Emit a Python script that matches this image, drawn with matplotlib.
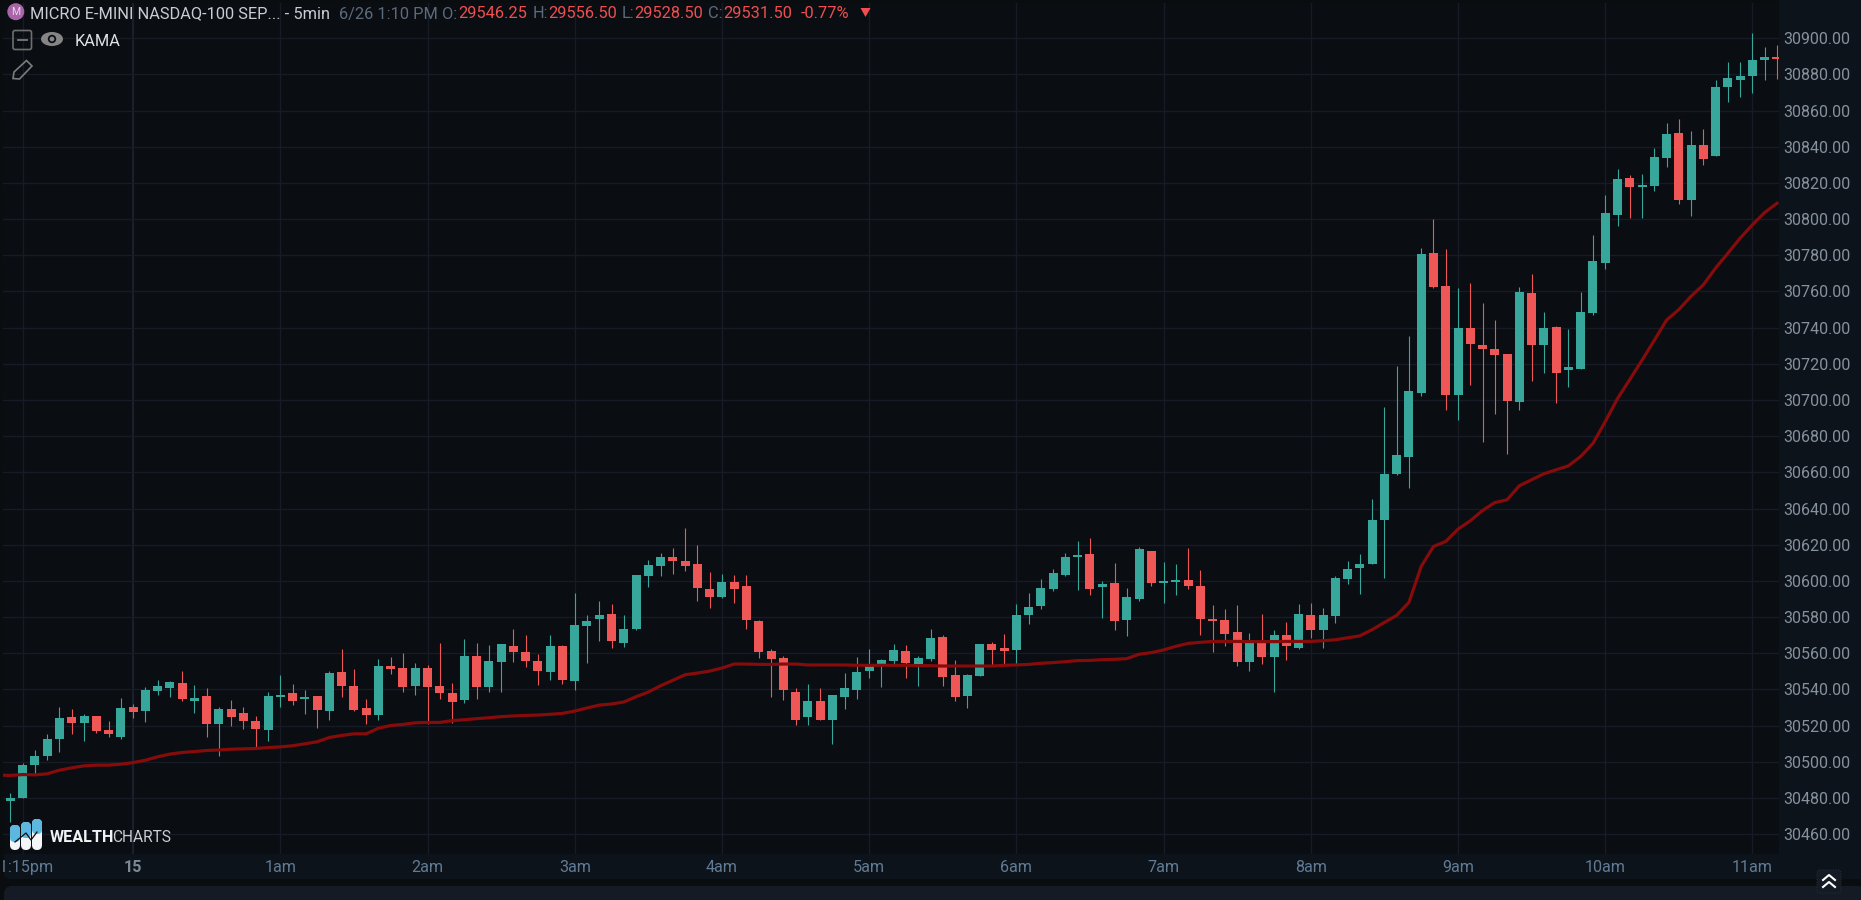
import numpy as np
import matplotlib
matplotlib.use("Agg")
import matplotlib.pyplot as plt
from matplotlib.patches import Circle, Ellipse, FancyBboxPatch, Polygon, Rectangle
from matplotlib.transforms import Bbox

plt.rcParams["font.family"] = ["Roboto", "DejaVu Sans"]

bg_color = "#0a0d12"
panel_color = "#0d131a"
grid_color = "#161b25"
teal = "#37a79b"
red = "#ee5755"
kama_color = "#860b0b"

# 5 minute bars, oldest first
opens = [
    30478.5, 30480.2, 30497.9, 30502.9, 30512.3, 30524.8, 30521.5, 30525.4, 30517.6, 30513.7,
    30530.3, 30528.3, 30539.2, 30541.0, 30543.6, 30533.6, 30536.4, 30520.9, 30529.2, 30527.0,
    30522.6, 30517.6, 30535.9, 30538.1, 30534.8, 30536.4, 30528.1, 30549.7, 30541.9, 30529.8,
    30525.9, 30553.0, 30551.9, 30541.9, 30551.9, 30541.9, 30537.8, 30533.9, 30558.3, 30541.3,
    30554.9, 30563.8, 30560.5, 30555.5, 30549.4, 30563.8, 30544.4, 30574.8, 30578.7, 30581.5,
    30565.4, 30573.2, 30602.5, 30608.0, 30613.0, 30610.8, 30609.1, 30595.3, 30590.9, 30599.2,
    30597.0, 30577.6, 30561.0, 30557.2, 30538.3, 30524.5, 30533.4, 30522.9, 30535.6, 30539.5,
    30550.0, 30553.8, 30555.5, 30561.0, 30553.8, 30556.6, 30568.8, 30547.7, 30536.1, 30547.2,
    30564.9, 30562.7, 30561.6, 30580.9, 30585.9, 30595.3, 30603.0, 30613.0, 30614.6, 30596.4,
    30598.6, 30578.2, 30589.8, 30616.3, 30598.6, 30599.2, 30600.3, 30597.0, 30578.7, 30578.2,
    30571.5, 30554.9, 30566.5, 30557.7, 30569.9, 30563.0, 30581.2, 30573.0, 30580.7, 30601.1,
    30607.2, 30609.4, 30633.7, 30659.2, 30668.6, 30704.0, 30781.4, 30763.1, 30702.9, 30739.9,
    30730.5, 30728.3, 30725.5, 30699.0, 30759.3, 30730.5, 30740.5, 30716.7, 30717.2, 30748.2,
    30775.9, 30802.4, 30822.9, 30817.9, 30818.4, 30833.9, 30847.7, 30810.7, 30841.1, 30835.0,
    30873.2, 30877.0, 30879.2, 30888.1, 30889.8,
]
closes = [
    30480.0, 30498.3, 30503.2, 30512.6, 30524.2, 30521.5, 30525.4, 30517.1, 30515.4, 30529.8,
    30527.6, 30539.7, 30541.9, 30544.2, 30534.8, 30535.3, 30520.9, 30529.2, 30524.8, 30522.6,
    30518.2, 30536.4, 30537.0, 30533.6, 30535.9, 30528.7, 30549.1, 30541.9, 30528.7, 30525.9,
    30553.0, 30551.3, 30541.4, 30551.9, 30541.4, 30538.1, 30533.0, 30558.3, 30541.3, 30555.5,
    30564.9, 30560.5, 30555.5, 30550.0, 30563.8, 30545.0, 30575.4, 30577.6, 30580.9, 30566.5,
    30573.2, 30603.0, 30608.6, 30613.0, 30610.8, 30608.0, 30595.9, 30590.9, 30599.2, 30595.3,
    30578.2, 30560.5, 30556.6, 30539.5, 30522.9, 30533.4, 30522.9, 30536.7, 30540.6, 30549.4,
    30553.8, 30556.0, 30561.6, 30554.4, 30557.2, 30568.2, 30546.6, 30535.6, 30547.7, 30564.9,
    30561.6, 30561.0, 30580.9, 30585.3, 30595.9, 30604.1, 30613.0, 30614.1, 30595.3, 30598.1,
    30577.6, 30590.9, 30617.4, 30598.6, 30599.7, 30600.3, 30597.0, 30578.7, 30577.6, 30570.4,
    30554.9, 30567.1, 30557.7, 30569.9, 30563.8, 30581.8, 30573.0, 30581.2, 30601.7, 30606.7,
    30609.4, 30633.7, 30659.2, 30669.7, 30705.1, 30780.8, 30762.6, 30702.9, 30739.9, 30731.1,
    30728.3, 30725.0, 30699.6, 30759.8, 30730.5, 30739.9, 30715.0, 30718.4, 30748.8, 30776.9,
    30803.5, 30822.3, 30817.9, 30819.0, 30834.5, 30847.2, 30810.7, 30841.1, 30833.4, 30873.2,
    30878.1, 30879.2, 30888.1, 30889.8, 30888.7,
]
highs = [
    30482.6, 30499.2, 30506.4, 30515.2, 30530.1, 30529.0, 30526.3, 30525.5, 30522.4, 30535.1,
    30532.0, 30541.2, 30545.1, 30544.5, 30550.2, 30542.5, 30540.6, 30530.1, 30534.2, 30530.1,
    30525.2, 30538.6, 30548.0, 30543.0, 30539.7, 30536.4, 30550.2, 30562.4, 30551.3, 30534.8,
    30556.7, 30558.0, 30560.2, 30554.7, 30553.5, 30565.5, 30543.7, 30568.0, 30565.8, 30564.7,
    30565.3, 30573.2, 30569.9, 30559.7, 30570.2, 30564.3, 30593.1, 30581.3, 30588.7, 30587.0,
    30581.3, 30603.2, 30611.3, 30615.2, 30618.0, 30629.0, 30620.0, 30604.7, 30604.0, 30603.0,
    30603.0, 30578.2, 30562.1, 30558.3, 30540.6, 30542.8, 30540.6, 30536.7, 30548.9, 30557.7,
    30562.1, 30556.6, 30564.9, 30564.3, 30558.3, 30573.2, 30569.9, 30556.0, 30548.3, 30564.9,
    30566.0, 30570.4, 30587.0, 30593.1, 30601.2, 30606.4, 30615.2, 30621.8, 30623.5, 30599.7,
    30609.7, 30595.9, 30618.9, 30616.3, 30610.2, 30609.1, 30618.0, 30605.8, 30586.4, 30584.2,
    30586.4, 30571.0, 30581.5, 30572.6, 30577.0, 30587.3, 30587.9, 30585.1, 30602.8, 30611.1,
    30615.0, 30645.4, 30696.0, 30718.9, 30735.5, 30784.2, 30800.0, 30783.4, 30762.0, 30764.6,
    30753.7, 30744.4, 30725.5, 30762.4, 30769.8, 30748.8, 30741.0, 30739.2, 30759.8, 30791.2,
    30813.5, 30827.6, 30824.5, 30825.1, 30839.3, 30853.1, 30855.5, 30848.8, 30850.0, 30877.0,
    30887.0, 30887.0, 30902.8, 30895.3, 30896.4,
]
lows = [
    30466.6, 30480.2, 30493.1, 30500.7, 30505.3, 30515.2, 30511.2, 30515.6, 30513.6, 30512.4,
    30524.4, 30522.2, 30536.8, 30536.0, 30533.3, 30526.8, 30513.4, 30502.9, 30519.8, 30518.3,
    30507.1, 30511.7, 30530.5, 30531.1, 30526.6, 30518.9, 30522.8, 30535.5, 30528.3, 30521.1,
    30522.8, 30548.4, 30538.8, 30537.1, 30520.9, 30534.4, 30521.6, 30532.5, 30534.7, 30538.7,
    30538.5, 30555.1, 30552.4, 30542.6, 30545.2, 30542.8, 30539.5, 30554.7, 30566.7, 30562.9,
    30563.6, 30572.8, 30596.4, 30602.7, 30604.0, 30605.4, 30588.8, 30585.0, 30590.3, 30587.9,
    30573.2, 30557.3, 30536.0, 30534.1, 30520.1, 30520.5, 30522.9, 30509.6, 30529.0, 30534.5,
    30546.5, 30541.1, 30552.9, 30546.3, 30541.9, 30555.5, 30541.9, 30533.6, 30529.5, 30547.2,
    30553.3, 30553.3, 30553.8, 30575.9, 30584.4, 30594.4, 30602.7, 30594.9, 30592.2, 30579.4,
    30572.6, 30569.3, 30588.8, 30597.1, 30587.9, 30592.0, 30595.7, 30570.0, 30560.5, 30564.0,
    30552.7, 30550.1, 30553.8, 30538.7, 30556.0, 30562.3, 30568.5, 30562.6, 30576.6, 30598.4,
    30592.8, 30609.4, 30601.3, 30658.6, 30651.1, 30702.0, 30762.2, 30694.6, 30688.7, 30708.2,
    30676.7, 30692.0, 30669.9, 30694.4, 30710.3, 30714.7, 30698.1, 30707.1, 30717.2, 30747.1,
    30772.4, 30796.0, 30800.7, 30800.7, 30815.3, 30828.6, 30808.5, 30801.5, 30829.7, 30835.0,
    30865.0, 30867.8, 30869.8, 30876.7, 30877.6,
]
# the KAMA line starts one bar before the first candle
kama = [
    30492.6,
    30492.4, 30492.9, 30492.7, 30493.3, 30495.3, 30496.6, 30497.7, 30498.1, 30498.1, 30498.6,
    30499.5, 30500.8, 30502.7, 30504.2, 30505.1, 30505.6, 30506.2, 30506.5, 30506.9, 30507.1,
    30507.3, 30507.8, 30508.2, 30508.8, 30509.9, 30511.0, 30513.4, 30514.5, 30515.4, 30515.4,
    30518.5, 30520.0, 30520.6, 30521.5, 30521.7, 30521.7, 30522.7, 30523.2, 30523.8, 30524.3,
    30524.9, 30525.3, 30525.6, 30525.8, 30526.2, 30526.7, 30528.0, 30529.7, 30531.3, 30531.9,
    30533.0, 30535.9, 30538.5, 30542.0, 30545.0, 30548.1, 30549.0, 30550.1, 30551.8, 30554.0,
    30554.0, 30553.8, 30553.8, 30554.0, 30554.0, 30553.5, 30553.5, 30553.5, 30553.5, 30553.3,
    30553.3, 30553.3, 30553.3, 30553.3, 30553.1, 30553.1, 30552.9, 30552.9, 30552.9, 30552.9,
    30552.9, 30553.3, 30553.5, 30553.8, 30554.4, 30554.8, 30555.3, 30555.9, 30556.0, 30556.4,
    30556.6, 30557.0, 30559.4, 30560.3, 30561.8, 30563.8, 30565.4, 30566.0, 30566.5, 30566.5,
    30566.5, 30566.4, 30566.4, 30566.4, 30566.5, 30566.5, 30566.5, 30566.9, 30567.4, 30568.5,
    30569.6, 30573.0, 30577.0, 30580.9, 30588.1, 30608.0, 30619.0, 30621.8, 30628.6, 30633.2,
    30638.9, 30643.3, 30644.8, 30652.6, 30655.9, 30659.2, 30661.4, 30663.6, 30668.8, 30676.0,
    30688.0, 30700.8, 30711.3, 30722.0, 30733.0, 30744.2, 30750.0, 30757.4, 30763.7, 30773.0,
    30781.2, 30789.5, 30796.9, 30803.7, 30808.8,
]

price_ticks = list(range(30460, 30901, 20))
time_ticks = [1, 10, 22, 34, 46, 58, 70, 82, 94, 106, 118, 130, 142]
time_labels = ["11:15pm", "15", "1am", "2am", "3am", "4am", "5am",
               "6am", "7am", "8am", "9am", "10am", "11am"]

W, H = 1861, 900
fig = plt.figure(figsize=(W / 100, H / 100), dpi=100)
fig.set_facecolor("#0a0d10")

# plot area in pixels, and the scale of the chart
left, right, top, bottom = 3, 1779, 3, 854
bar_px = 12.268
x0_px = 10.4
price_px = 1.8085
y900_px = 38.3

# panels behind the chart: price axis, time axis, footer bar
back = fig.add_axes([0, 0, 1, 1], zorder=0)
back.set_xlim(0, W)
back.set_ylim(H, 0)
back.axis("off")
back.add_patch(Rectangle((right, 0), W - right, 879, color=panel_color, lw=0))
back.add_patch(FancyBboxPatch((4, 840), W, 39, boxstyle="round,pad=0,rounding_size=6",
                              color=panel_color, lw=0))
back.add_patch(FancyBboxPatch((4, 886), W, 40, boxstyle="round,pad=0,rounding_size=8",
                              color="#141b24", lw=0))

ax = fig.add_axes([left / W, 1 - bottom / H, (right - left) / W, (bottom - top) / H], zorder=1)
ax.set_facecolor(bg_color)
for s in ax.spines.values():
    s.set_visible(False)
ax.set_xlim((left - x0_px) / bar_px, (right - x0_px) / bar_px)
ax.set_ylim(30900 - (bottom - y900_px) / price_px, 30900 - (top - y900_px) / price_px)

idx = np.arange(len(opens))
o, c = np.array(opens), np.array(closes)
colors = [teal if cl >= op else red for op, cl in zip(opens, closes)]

ax.vlines(idx, lows, highs, colors=colors, lw=0.8, zorder=3)
ax.bar(idx, np.abs(c - o), bottom=np.minimum(o, c), width=9 / bar_px, color=colors, lw=0, zorder=4)
ax.plot(np.arange(-1, len(kama) - 1), kama, color=kama_color, lw=2.3, zorder=5, solid_joinstyle="round")

ax.set_axisbelow(True)
ax.set_yticks(price_ticks, [f"{p:.2f}" for p in price_ticks])
ax.set_xticks(time_ticks, time_labels)
ax.yaxis.tick_right()
ax.grid(True, color=grid_color, lw=1.0)
ax.get_xgridlines()[1].set_color("#18202b")
ax.get_xgridlines()[1].set_linewidth(1.6)
ax.tick_params(axis="y", length=0, pad=3.4, labelsize=11.5, labelcolor="#86919d")
ax.tick_params(axis="x", length=0, pad=4.5, labelsize=11.6, labelcolor="#627b95")

# the first time label runs off the left edge of the window
for lab in ax.get_xticklabels():
    lab.set_clip_on(True)
    lab.set_clip_box(Bbox([[2.5, 0], [W, H]]))
bold = ax.get_xticklabels()[1]
bold.set_fontweight("bold")
bold.set_color("#7c8995")

# header, drawing tools and logo on top, in pixel coordinates
top_ax = fig.add_axes([0, 0, 1, 1], zorder=2)
top_ax.set_xlim(0, W)
top_ax.set_ylim(H, 0)
top_ax.axis("off")
top_ax.patch.set_alpha(0)


def label(x, y, s, color, size=11.8, **kw):
    top_ax.text(x, y, s, color=color, fontsize=size, va="center", ha=kw.pop("ha", "left"), **kw)


top_ax.add_patch(Circle((15.8, 11.7), 8.5, color="#a866a8", lw=0))
label(15.8, 12, "M", "#e8d8e8", size=7.5, ha="center")
label(30.4, 14, "MICRO E-MINI NASDAQ-100 SEP... - 5min", "#c8cdd3")
muted = "#5c6b7a"
value_red = "#ef4f4f"
label(338.7, 14, "6/26 1:10 PM O:", muted)
label(458, 14, "29546.25", value_red)
label(532.7, 14, "H:", muted)
label(548, 14, "29556.50", value_red)
label(622, 14, "L:", muted)
label(634.3, 14, "29528.50", value_red)
label(708, 14, "C:", muted)
label(723, 14, "29531.50", value_red)
label(801, 14, "-0.77%", value_red)
top_ax.add_patch(Polygon([(860.5, 8), (870.5, 8), (865.5, 17)], color=value_red, lw=0))

top_ax.add_patch(FancyBboxPatch((13, 30.5), 18.5, 19, boxstyle="round,pad=0,rounding_size=2",
                                fc="none", ec="#6e6e6e", lw=1.2))
top_ax.plot([18, 26.5], [40, 40], color="#7a7a7a", lw=1.3)
top_ax.add_patch(Ellipse((52, 39), 22, 14, color="#858585", lw=0))
top_ax.add_patch(Circle((52, 39), 4.2, color=bg_color, lw=0))
top_ax.add_patch(Circle((52, 39), 2.4, color="#858585", lw=0))
label(74.6, 42, "KAMA", "#dfe3e6")
top_ax.add_patch(Polygon([(13, 78.5), (14, 72), (26.5, 60.5), (32, 66), (19.5, 79)],
                         closed=True, fc="none", ec="#7c7c7c", lw=1.2))

for x_c, y_top, y_blue in [(15, 825, 842), (26, 822, 838), (37, 819, 834)]:
    top_ax.add_patch(FancyBboxPatch((x_c - 5, y_top), 10, 850 - y_top,
                                    boxstyle="round,pad=0,rounding_size=5", color="#f4f6f7", lw=0))
    top_ax.add_patch(FancyBboxPatch((x_c - 5, y_top), 10, y_blue - y_top,
                                    boxstyle="round,pad=0,rounding_size=4.5", color="#5cb8df", lw=0))
top_ax.plot([15, 26, 31, 37], [842, 833, 840, 832], color="#0a0d12", lw=0.9)
label(50, 838, "WEALTH", "#f0f2f3", size=11.6, fontweight="bold")
label(112.5, 838, "CHARTS", "#c9ced2", size=11.2)

# collapse button at the bottom right
top_ax.add_patch(FancyBboxPatch((1817, 870), 24, 23, boxstyle="round,pad=0,rounding_size=3",
                                fc="#141b24", ec="#2a3038", lw=0.7, ls=":"))
top_ax.plot([1823, 1829, 1835], [880, 875, 880], color="white", lw=1.5)
top_ax.plot([1823, 1829, 1835], [887, 882, 887], color="white", lw=1.5)

plt.savefig("out.png", dpi=100, facecolor=fig.get_facecolor())
